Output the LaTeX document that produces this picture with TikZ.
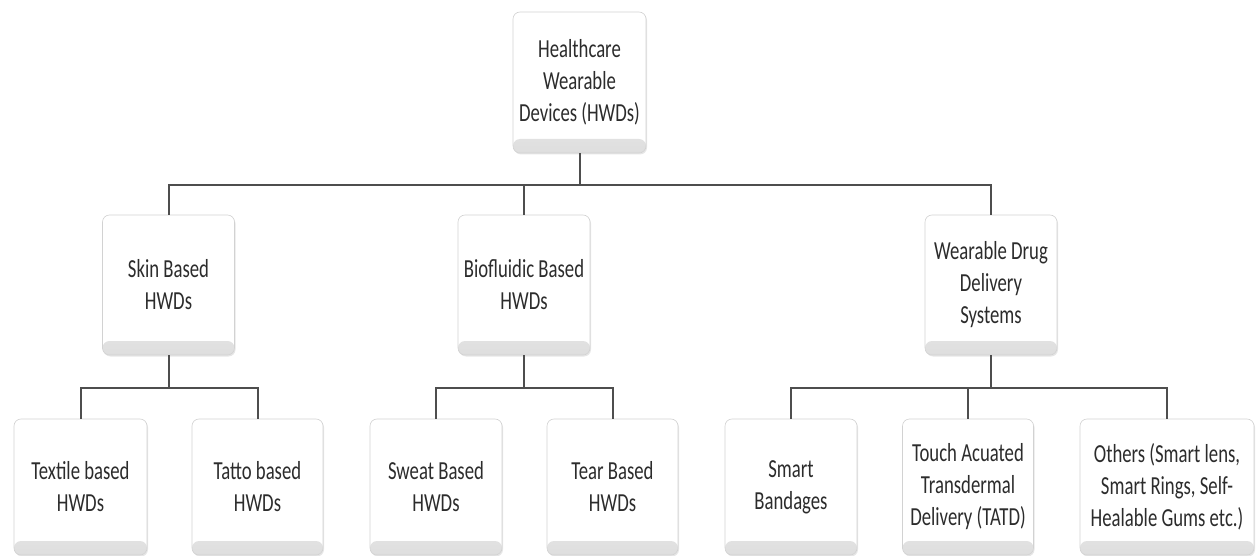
\documentclass[tikz,border=0pt]{standalone}
\usepackage{fontspec}
\setmainfont{Carlito}[FakeStretch=0.72]
\usetikzlibrary{shadows}
\definecolor{boxtext}{HTML}{2C2C2C}
\definecolor{linkgray}{HTML}{4E4E4E}

\begin{document}
\begin{tikzpicture}[x=1pt,y=-1pt,
  hwd/.style={draw=gray!35, line width=0.6pt, rounded corners=7pt, fill=white,
    path picture={\shade [top color=white, bottom color=gray!26]
      (path picture bounding box.south west) rectangle
      ([yshift=14pt]path picture bounding box.south east);},
    drop shadow={opacity=0.2, shadow xshift=1pt, shadow yshift=-1.5pt},
    minimum width=132pt, minimum height=140pt, inner sep=2pt,
    align=center, text=boxtext, font=\fontsize{26}{32}\selectfont},
  leaf/.style={hwd, minimum height=136pt},
  link/.style={draw=linkgray, line width=2pt}]
\useasboundingbox (0,0) rectangle (1256,556);
\node [hwd, minimum height=141pt, minimum width=133pt] (root) at (579.5,82.5) {Healthcare\\Wearable\\Devices (HWDs)};
\node [hwd] (skin) at (168.5,285) {Skin Based\\HWDs};
\node [hwd] (bio) at (524,285) {Biofluidic Based\\HWDs};
\node [hwd] (wdds) at (991,285) {Wearable Drug\\Delivery\\Systems};
\node [leaf, minimum width=133pt] (textile) at (80.5,487) {Textile based\\HWDs};
\node [leaf, minimum width=131pt] (tatto) at (257.5,487) {Tatto based\\HWDs};
\node [leaf] (sweat) at (436,487) {Sweat Based\\HWDs};
\node [leaf, minimum width=131pt] (tear) at (612.5,487) {Tear Based\\HWDs};
\node [leaf] (bandage) at (791,487) {Smart\\Bandages};
\node [leaf, minimum width=131pt] (tatd) at (968,487) {Touch Acuated\\Transdermal\\Delivery (TATD)};
\node [leaf, minimum width=174pt] (others) at (1167,487) {Others (Smart lens,\\Smart Rings, Self-\\Healable Gums etc.)};
\coordinate (j1) at (579.5,185);
\coordinate (jskin) at (168.5,388);
\coordinate (jbio) at (524,388);
\coordinate (jwdds) at (991,388);
\draw [link] (root) -- (j1);
\draw [link] (j1) -| (skin);
\draw [link] (j1) -| (bio);
\draw [link] (j1) -| (wdds);
\draw [link] (skin) -- (jskin);
\draw [link] (jskin) -| (textile);
\draw [link] (jskin) -| (tatto);
\draw [link] (bio) -- (jbio);
\draw [link] (jbio) -| (sweat);
\draw [link] (jbio) -| (tear);
\draw [link] (wdds) -- (jwdds);
\draw [link] (jwdds) -| (bandage);
\draw [link] (jwdds) -| (tatd);
\draw [link] (jwdds) -| (others);
\end{tikzpicture}
\end{document}
